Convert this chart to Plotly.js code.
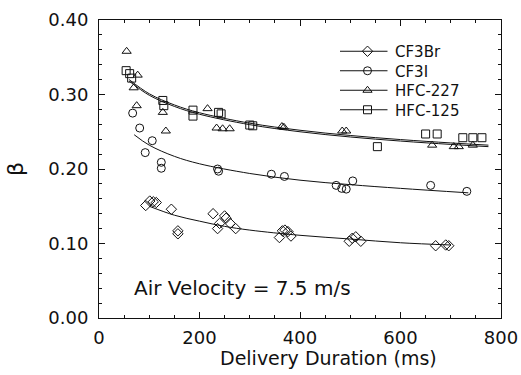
<!DOCTYPE html>
<html>
<head>
<meta charset="utf-8">
<script src="https://cdn.plot.ly/plotly-3.0.1.min.js"></script>
<style>html,body{margin:0;padding:0;background:#fff;}#chart{width:521px;height:375px;}</style>
</head>
<body>
<div id="chart"></div>
<script>
// ---- data ----
const seriesNames = ["CF3Br", "CF3I", "HFC-227", "HFC-125"];

const cf3brX = [93, 101, 108, 114, 144, 157, 157, 227, 236, 240, 250, 253, 261, 272, 359, 365, 370, 376, 382, 498, 504, 511, 521, 670, 690, 696];
const cf3brY = [0.151, 0.157, 0.156, 0.155, 0.146, 0.117, 0.113, 0.140, 0.120, 0.127, 0.137, 0.134, 0.127, 0.120, 0.108, 0.117, 0.118, 0.116, 0.110, 0.103, 0.107, 0.109, 0.103, 0.097, 0.098, 0.097];

const cf3iX = [67, 81, 92, 106, 124, 124, 236, 238, 343, 369, 472, 483, 492, 505, 660, 732];
const cf3iY = [0.275, 0.255, 0.222, 0.238, 0.209, 0.201, 0.200, 0.197, 0.193, 0.190, 0.178, 0.174, 0.173, 0.184, 0.178, 0.170];

const hfc227X = [55, 77, 69, 75, 127, 133, 216, 234, 246, 260, 364, 368, 484, 492, 663, 706, 716, 744];
const hfc227Y = [0.358, 0.326, 0.309, 0.285, 0.276, 0.251, 0.281, 0.255, 0.254, 0.254, 0.257, 0.256, 0.251, 0.251, 0.232, 0.230, 0.230, 0.232];

const hfc125X = [54, 61, 65, 127, 129, 187, 187, 238, 243, 300, 306, 554, 650, 673, 724, 744, 762];
const hfc125Y = [0.332, 0.328, 0.322, 0.292, 0.285, 0.279, 0.271, 0.276, 0.274, 0.259, 0.258, 0.230, 0.247, 0.247, 0.242, 0.242, 0.242];

// fitted curves
const cf3brFitX = [100, 150, 200, 250, 300, 400, 500, 600, 700];
const cf3brFitY = [0.150, 0.138, 0.130, 0.123, 0.118, 0.111, 0.106, 0.101, 0.098];
const cf3iFitX = [70, 100, 150, 200, 300, 400, 500, 600, 735];
const cf3iFitY = [0.246, 0.232, 0.217, 0.207, 0.194, 0.185, 0.179, 0.174, 0.168];
const hfcFitX = [60, 100, 150, 200, 300, 400, 500, 600, 700, 775];
const hfc125FitY = [0.320, 0.301, 0.286, 0.2755, 0.2615, 0.252, 0.245, 0.2395, 0.235, 0.232];
const hfc227FitY = [0.318, 0.299, 0.284, 0.2735, 0.2595, 0.250, 0.243, 0.2375, 0.233, 0.230];

const xTickVals = [0, 200, 400, 600, 800];
const yTickVals = [0.00, 0.10, 0.20, 0.30, 0.40];
const noteText = "Air Velocity = 7.5 m/s";
const xTitle = "Delivery Duration (ms)";
const yTitle = "β";

// ---- build traces ----
const FONT = "DejaVu Sans, sans-serif";
const INK = "#111";
const symbols = ["diamond-open", "circle-open", "triangle-up-open", "square-open"];
const pts = [[cf3brX, cf3brY], [cf3iX, cf3iY], [hfc227X, hfc227Y], [hfc125X, hfc125Y]];
const fits = [[cf3brFitX, cf3brFitY], [cf3iFitX, cf3iFitY], [hfcFitX, hfc227FitY], [hfcFitX, hfc125FitY]];
const traces = [];
for (let i = 0; i < seriesNames.length; i++) {
  traces.push({
    x: fits[i][0], y: fits[i][1], mode: "lines", showlegend: false,
    line: {color: INK, width: 1, shape: "spline"}, hoverinfo: "skip"
  });
  traces.push({
    x: pts[i][0], y: pts[i][1], mode: "markers", showlegend: false,
    marker: {symbol: symbols[i], size: 8, color: INK, line: {width: 1, color: INK}}
  });
}
for (let i = 0; i < seriesNames.length; i++) {
  traces.push({
    x: [null], y: [null], name: seriesNames[i], mode: "lines+markers",
    line: {color: INK, width: 1},
    marker: {symbol: symbols[i], size: 8, color: INK, line: {width: 1, color: INK}}
  });
}

const PL = 99, PR = 501, PT = 20, PB = 318;
const ROW = 19.5;
const layout = {
  width: 521, height: 375,
  margin: {l: PL, r: 521 - PR, t: PT, b: 375 - PB},
  paper_bgcolor: "#fff", plot_bgcolor: "#fff",
  font: {family: FONT, size: 18, color: INK},
  showlegend: true,
  legend: {x: (340 - PL) / (PR - PL), y: (PB - 35) / (PB - PT), xanchor: "left", yanchor: "top",
           bgcolor: "rgba(0,0,0,0)", font: {family: FONT, size: 15, color: INK},
           tracegroupgap: 0, itemwidth: 45},
  xaxis: {
    range: [0, 800], tickvals: xTickVals, ticktext: xTickVals.map(String),
    ticks: "inside", ticklen: 6, tickcolor: INK, tickwidth: 1,
    minor: {dtick: 50, ticks: "inside", ticklen: 3, tickcolor: INK},
    showline: true, linecolor: INK, linewidth: 1, mirror: "ticks",
    showgrid: false, zeroline: false, ticklabelstandoff: 3,
    tickfont: {family: FONT, size: 18, color: INK}
  },
  yaxis: {
    range: [0, 0.4], tickvals: yTickVals, ticktext: yTickVals.map(v => v.toFixed(2)),
    ticks: "inside", ticklen: 6, tickcolor: INK, tickwidth: 1,
    minor: {dtick: 0.02, ticks: "inside", ticklen: 3, tickcolor: INK},
    showline: true, linecolor: INK, linewidth: 1, mirror: "ticks",
    showgrid: false, zeroline: false, ticklabelstandoff: 6,
    tickfont: {family: FONT, size: 18, color: INK},
    title: {text: yTitle, font: {family: FONT, size: 22, color: INK}, standoff: 18}
  },
  annotations: [
    {text: noteText, xref: "x", yref: "y", x: 66, y: 0.040, xanchor: "left", yanchor: "middle",
     showarrow: false, font: {family: FONT, size: 20, color: INK}},
    {text: xTitle, xref: "paper", yref: "paper", x: (328 - PL) / (PR - PL), y: -(358 - PB) / (PB - PT),
     xanchor: "center", yanchor: "middle", showarrow: false,
     font: {family: FONT, size: 19, color: INK}}
  ]
};

const gd = document.getElementById("chart");
Plotly.newPlot(gd, traces, layout, {staticPlot: true, displayModeBar: false}).then(function () {
  // tighten legend rows and lengthen the key lines to match the reference legend
  const items = gd.querySelectorAll(".legend .traces");
  let y0 = null;
  items.forEach(function (g, i) {
    const m = /translate\(([-\d.]+)[ ,]+([-\d.]+)\)/.exec(g.getAttribute("transform") || "");
    if (!m) return;
    const x = parseFloat(m[1]);
    if (y0 === null) y0 = parseFloat(m[2]);
    g.setAttribute("transform", "translate(" + x + "," + (y0 + i * ROW) + ")");
    g.querySelectorAll(".legendlines path").forEach(function (p) { p.setAttribute("d", "M-7.5,0h55"); });
  });
});
</script>
</body>
</html>
